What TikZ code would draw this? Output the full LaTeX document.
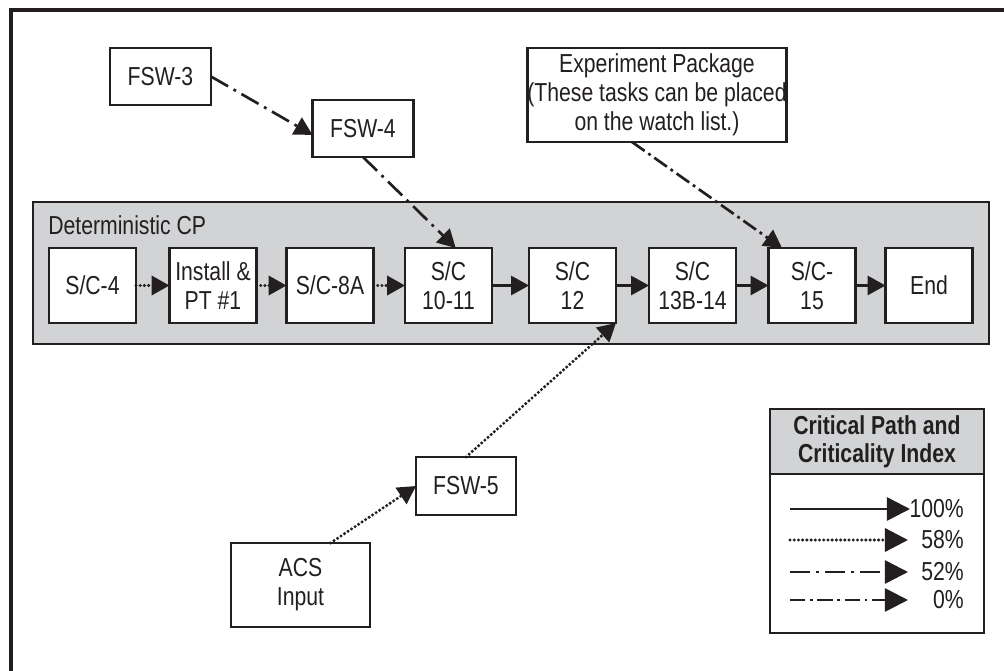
\documentclass[tikz,border=0pt]{standalone}
\usepackage{fontspec}
\setmainfont{Liberation Sans}[FakeStretch=0.815]
\usetikzlibrary{arrows.meta}

\definecolor{cpgray}{HTML}{D1D3D4}
\definecolor{ink}{HTML}{231F20}

\tikzset{
  taskbox/.style={draw=ink,
    line width=1.6pt,
    fill=white,
    minimum width=2.175cm,
    minimum height=1.875cm,
    inner sep=0pt,
    outer sep=0pt,
    align=center},
  fswbox/.style={taskbox,
    minimum width=2.525cm,
    minimum height=1.425cm},
  bigtip/.style={-{Triangle[length=0.45cm,width=0.48cm]}},
  legtip/.style={-{Triangle[length=0.58cm,width=0.58cm]}},
  crit100/.style={draw=ink, line width=1.8pt},
  crit58/.style={draw=ink, line width=2.4pt, line cap=round,
    dash pattern=on 0pt off 3pt},
  crit52/.style={draw=ink, line width=1.9pt,
    dash pattern=on 14pt off 4.5pt on 2pt off 4.5pt},
  crit0/.style={draw=ink, line width=1.9pt,
    dash pattern=on 11pt off 3.2pt on 2pt off 3.2pt}
}

\begin{document}
\begin{tikzpicture}[font=\fontsize{18.5}{20.5}\selectfont, ink]
    \useasboundingbox (0,0) rectangle (25.1,-16.775);
    \fill[white] (0,0) rectangle (25.1,-16.775);

    % Outer frame
    \draw[ink, line width=2.4pt] (0.275,-16.775) -- (0.275,-0.25) -- (25.1,-0.25);

    % Deterministic CP
    \node[draw=ink,
      line width=1.8pt,
      fill=cpgray,
      minimum width=23.9cm,
      minimum height=3.55cm,
      outer sep=0] (detcp) at (12.775,-6.825) {};
    \node[anchor=west, inner sep=0] (detlabel) at (1.2,-5.625) {Deterministic CP};

    % Task row
    \node[taskbox] (sc4)    at ( 2.3125,-7.1375) {S/C-4};
    \node[taskbox] (install) at ( 5.325,-7.1375) {Install \&\\PT \#1};
    \node[taskbox] (sc8a)   at ( 8.25,  -7.1375) {S/C-8A};
    \node[taskbox] (sc1011) at (11.2125,-7.1375) {S/C\\10-11};
    \node[taskbox] (sc12)   at (14.3125,-7.1375) {S/C\\12};
    \node[taskbox] (sc1314) at (17.3125,-7.1375) {S/C\\13B-14};
    \node[taskbox] (sc15)   at (20.3,   -7.1375) {S/C-\\15};
    \node[taskbox] (scend)  at (23.225, -7.1375) {End};

    % FSW tasks
    \node[fswbox] (fsw3) at ( 4.0125,-1.9125) {FSW-3};
    \node[fswbox] (fsw4) at ( 9.075, -3.2125) {FSW-4};
    \node[fswbox,
      minimum width=2.5cm,
      minimum height=1.45cm] (fsw5) at (11.65,-12.15) {FSW-5};

    % ACS Input
    \node[taskbox,
      minimum width=3.475cm,
      minimum height=2.1cm] (acs) at (7.5125,-14.625) {ACS\\Input};

    % Experiment Package
    \node[taskbox,
      minimum width=6cm,
      minimum height=2.35cm] (expkg) at (16.425,-2.375)
      {Experiment Package\\(These tasks can be placed\\on the watch list.)};

    % Draw Arrows
    \draw[crit58, bigtip] (sc4.east) -- (install.west);
    \draw[crit58, bigtip] (install.east) -- (sc8a.west);
    \draw[crit58, bigtip] (sc8a.east) -- (sc1011.west);
    \draw[crit100, bigtip] (sc1011.east) -- (sc12.west);
    \draw[crit100, bigtip] (sc12.east) -- (sc1314.west);
    \draw[crit100, bigtip] (sc1314.east) -- (sc15.west);
    \draw[crit100, bigtip] (sc15.east) -- (scend.west);

    \draw[crit52, bigtip] (fsw3.east) -- ([yshift=-0.16cm]fsw4.west);
    \draw[crit52, bigtip] (fsw4.south) -- ([xshift=0.18cm]sc1011.north);
    \draw[crit0, bigtip] ([xshift=-0.625cm]expkg.south) -- ([xshift=-0.75cm]sc15.north);
    \draw[crit58, bigtip] ([xshift=0.75cm]acs.north) -- (fsw5.west);
    \draw[crit58, bigtip] (fsw5.north) -- (sc12.south east);

    % Legend
    \node[draw=ink,
      line width=1.8pt,
      fill=cpgray,
      minimum width=5.35cm,
      minimum height=1.625cm,
      outer sep=0,
      align=center,
      font=\fontsize{18.5}{20}\selectfont\bfseries] (leghead) at (21.925,-11.0375)
      {Critical Path and\\Criticality Index};
    \node[draw=ink,
      line width=1.8pt,
      fill=white,
      minimum width=5.35cm,
      minimum height=3.975cm,
      outer sep=0] (legbody) at (21.925,-13.8375) {};

    \coordinate (l100a) at (19.75,-12.725);
    \coordinate (l100b) at (22.75,-12.725);
    \coordinate (l58a) at (19.75,-13.5);
    \coordinate (l58b) at (22.7,-13.5);
    \coordinate (l52a) at (19.75,-14.3);
    \coordinate (l52b) at (22.7,-14.3);
    \coordinate (l0a) at (19.75,-15.0);
    \coordinate (l0b) at (22.7,-15.0);

    \draw[crit100, legtip] (l100a) -- (l100b);
    \draw[crit58, legtip] (l58a) -- (l58b);
    \draw[crit52, legtip] (l52a) -- (l52b);
    \draw[crit0, legtip] (l0a) -- (l0b);

    % Text labels
    \node[anchor=east, inner sep=0] (t100) at (24.1,-12.725) {100\%};
    \node[anchor=east, inner sep=0] (t58) at (24.1,-13.5) {58\%};
    \node[anchor=east, inner sep=0] (t52) at (24.1,-14.3) {52\%};
    \node[anchor=east, inner sep=0] (t0) at (24.1,-15.0) {0\%};
  \end{tikzpicture}
\end{document}
